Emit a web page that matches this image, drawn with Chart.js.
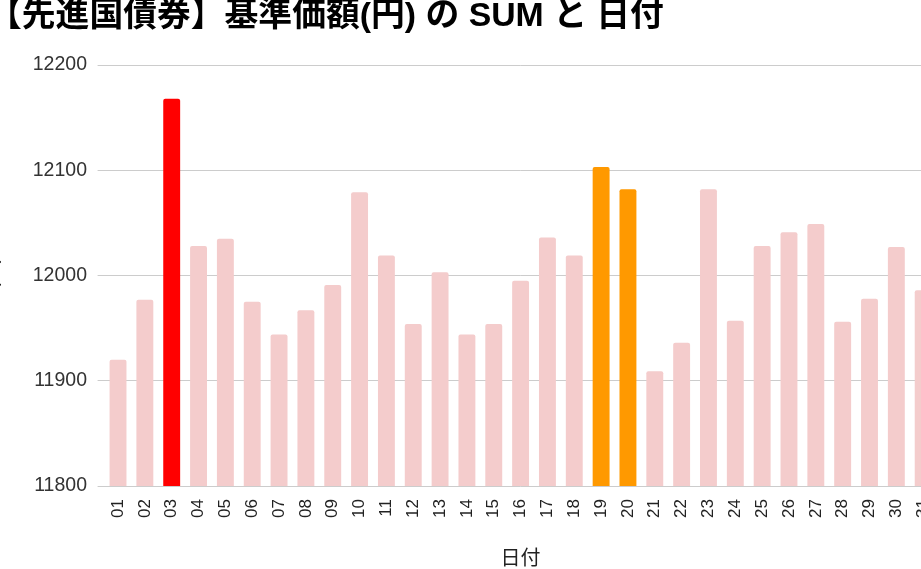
<!DOCTYPE html>
<html>
<head>
<meta charset="utf-8">
<script src="https://cdn.jsdelivr.net/npm/chart.js@4/dist/chart.umd.min.js"></script>
<style>
  html, body { margin: 0; padding: 0; background: #fff; overflow: hidden; }
  #wrap { position: absolute; left: -12px; top: 0; width: 961px; height: 569px; }
</style>
</head>
<body>
<div id="wrap"><canvas id="c"></canvas></div>
<script>
// 日付 (day of month) and the summed NAV for each day
const days = ['01','02','03','04','05','06','07','08','09','10',
              '11','12','13','14','15','16','17','18','19','20',
              '21','22','23','24','25','26','27','28','29','30','31'];
const navSum = [11920, 11977, 12168, 12028, 12035, 11975, 11944, 11967, 11991, 12079,
                12019, 11954, 12003, 11944, 11954, 11995, 12036, 12019, 12103, 12082,
                11909, 11936, 12082, 11957, 12028, 12041, 12049, 11956, 11978, 12027, 11986];
const yTicks = [11800, 11900, 12000, 12100, 12200];

const baseColor = '#f4cccc';
const highlight = { '03': '#ff0000', '19': '#ff9900', '20': '#ff9900' };
const barColors = days.map(d => highlight[d] || baseColor);

const latin = '"Liberation Sans", Arial, "Noto Sans CJK JP", sans-serif';

new Chart(document.getElementById('c'), {
    type: 'bar',
    data: {
        labels: days,
        datasets: [{
            data: navSum,
            backgroundColor: barColors,
            borderRadius: 2,
            borderSkipped: 'start',
            categoryPercentage: 1,
            barPercentage: 0.63,
        }],
    },
    options: {
        responsive: true,
        maintainAspectRatio: false,
        animation: false,
        layout: { padding: { left: 0, right: 12.4, top: 0, bottom: 0 } },
        plugins: {
            legend: { display: false },
            tooltip: { enabled: false },
            title: {
                display: true,
                text: '【先進国債券】基準価額(円) の SUM と 日付',
                align: 'start',
                color: '#000',
                font: { family: latin, size: 33.8, weight: 'bold', lineHeight: 1 },
                padding: { top: 0, bottom: 31.2 },
            },
        },
        scales: {
            x: {
                grid: { display: false },
                border: { display: false },
                ticks: {
                    color: '#222',
                    font: { family: latin, size: 17 },
                    minRotation: 90,
                    maxRotation: 90,
                    autoSkip: false,
                    padding: 5,
                },
                title: {
                    display: true,
                    text: '日付',
                    color: '#222',
                    font: { family: latin, size: 20, lineHeight: 1 },
                    padding: { top: 0, bottom: 0 },
                },
                afterFit: (scale) => { scale.height = 83; },
            },
            y: {
                min: yTicks[0],
                max: yTicks[yTicks.length - 1],
                afterBuildTicks: (scale) => { scale.ticks = yTicks.map(v => ({ value: v })); },
                grid: { color: '#cccccc', tickColor: '#cccccc', tickLength: 7, drawTicks: true },
                border: { display: false },
                ticks: {
                    color: '#333',
                    font: { family: latin, size: 19.5 },
                    padding: 10.6,
                    callback: (v) => String(v),
                },
                title: {
                    display: true,
                    text: '基準価額(円) の SUM',
                    color: '#222',
                    font: { family: latin, size: 20, lineHeight: 1 },
                    padding: { top: -7, bottom: 0 },
                },
                afterFit: (scale) => { scale.width = 116.6; },
            },
        },
    },
});
</script>
</body>
</html>
